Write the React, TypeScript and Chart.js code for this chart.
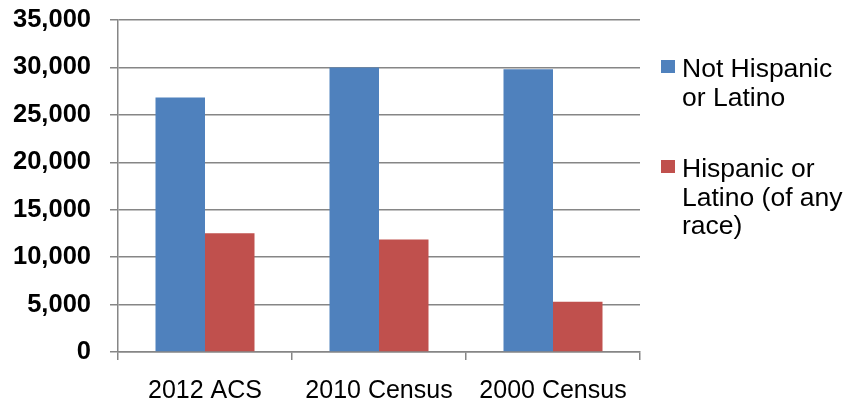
import React, { useEffect, useRef } from "react";
import { Chart, registerables } from "chart.js";

Chart.register(...registerables);

const categories = ["2012 ACS", "2010 Census", "2000 Census"];
const notHispanic = [26830, 29980, 29800];
const hispanic = [12530, 11860, 5300];
const seriesNames = ["Not Hispanic or Latino", "Hispanic or Latino (of any race)"];
const legendLines = [
  ["Not Hispanic", "or Latino"],
  ["Hispanic or", "Latino (of any", "race)"],
];
const seriesColors = ["#4F81BD", "#C0504D"];
const yTicks = [0, 5000, 10000, 15000, 20000, 25000, 30000, 35000];

const FONT = "'Liberation Sans', Arial, sans-serif";
const GRID = "#868686";

const legendPlugin = {
  id: "sideLegend",
  afterDraw(chart: any) {
    const ctx = chart.ctx;
    const area = chart.chartArea;
    const boxX = area.right + 21;
    const textX = area.right + 42;
    const starts = [77, 177];
    const lineH = 28.5;
    ctx.save();
    ctx.font = `26.5px ${FONT}`;
    ctx.textBaseline = "alphabetic";
    ctx.textAlign = "left";
    chart.data.datasets.forEach((ds: any, i: number) => {
      const base = starts[i];
      ctx.fillStyle = ds.backgroundColor;
      ctx.fillRect(boxX, base - 17, 14, 13);
      ctx.fillStyle = "#000000";
      legendLines[i].forEach((line, j) => {
        ctx.fillText(line, textX, base + j * lineH);
      });
    });
    ctx.restore();
  },
};

export default function App() {
  const ref = useRef<HTMLCanvasElement | null>(null);

  useEffect(() => {
    document.body.style.margin = "0";
    const chart = new Chart(ref.current as HTMLCanvasElement, {
      type: "bar",
      data: {
        labels: categories,
        datasets: [
          {
            label: seriesNames[0],
            data: notHispanic,
            backgroundColor: seriesColors[0],
            categoryPercentage: 0.569,
            barPercentage: 1.0,
          },
          {
            label: seriesNames[1],
            data: hispanic,
            backgroundColor: seriesColors[1],
            categoryPercentage: 0.569,
            barPercentage: 1.0,
          },
        ],
      },
      options: {
        animation: false,
        responsive: false,
        maintainAspectRatio: false,
        layout: { padding: { top: 20, right: 204, bottom: 0, left: 0 } },
        plugins: {
          legend: { display: false },
          tooltip: { enabled: false },
        },
        scales: {
          x: {
            grid: {
              display: true,
              drawOnChartArea: false,
              drawTicks: true,
              tickLength: 8,
              offset: true,
              color: GRID,
              lineWidth: 1.5,
            },
            border: { display: true, color: GRID, width: 1.5 },
            ticks: {
              color: "#000000",
              font: { family: FONT, size: 25 },
              padding: 16,
              maxRotation: 0,
            },
            afterFit(scale: any) {
              scale.height = 54;
            },
          },
          y: {
            min: 0,
            max: 35000,
            afterBuildTicks(scale: any) {
              scale.ticks = yTicks.map((v) => ({ value: v }));
            },
            grid: {
              color: GRID,
              lineWidth: 1.5,
              tickLength: 8,
              drawTicks: true,
            },
            border: { display: true, color: GRID, width: 1.5 },
            ticks: {
              color: "#000000",
              font: { family: FONT, size: 25.5, weight: "bold", lineHeight: 0.05 },
              padding: 19,
              callback: (v: any) => Number(v).toLocaleString("en-US"),
            },
            afterFit(scale: any) {
              scale.width = 118;
            },
          },
        },
      },
      plugins: [legendPlugin],
    });
    return () => chart.destroy();
  }, []);

  return (
    <div style={{ position: "fixed", left: 0, top: 0, width: 844, height: 406, background: "#ffffff" }}>
      <canvas ref={ref} width={844} height={406} style={{ width: 844, height: 406, display: "block" }} />
    </div>
  );
}
